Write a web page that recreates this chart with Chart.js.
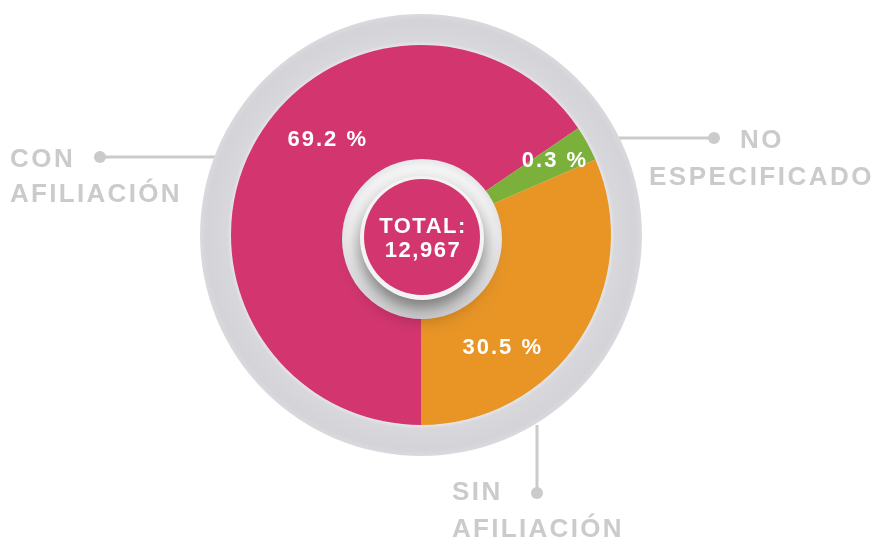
<!DOCTYPE html>
<html>
<head>
<meta charset="utf-8">
<script src="https://cdn.jsdelivr.net/npm/chart.js@4.4.0/dist/chart.umd.min.js"></script>
<style>
  body { margin: 0; background: #fff; }
  #wrap { width: 875px; height: 538px; }
</style>
</head>
<body>
<div id="wrap"><canvas id="myChart"></canvas></div>
<script>
var categories = ["CON AFILIACIÓN", "NO ESPECIFICADO", "SIN AFILIACIÓN"];
var percentages = [69.2, 0.3, 30.5];
// slice sizes as drawn in the infographic (the tiny slice is enlarged there)
var sliceShares = [65.5, 3.0, 31.5];
var totalLabel = "12,967";
var colors = ["#d3366f", "#7bb03a", "#e89526"];

// where each percent label sits: [angle from top in degrees, fraction of radius]
var labelSpots = [[-44.7, 0.705], [61, 0.80], [144.4, 0.73]];

var greyText = "#cbcbcb";

function spacedText(ctx, txt, x, y, spacing) {
  ctx.letterSpacing = spacing + "px";
  ctx.fillText(txt, x, y);
}

function dot(ctx, x, y) {
  ctx.beginPath();
  ctx.arc(x, y, 6, 0, 2 * Math.PI);
  ctx.fill();
}

var decor = {
  id: "decor",
  beforeDatasetsDraw: function (chart) {
    var arc = chart.getDatasetMeta(0).data[0];
    var cx = arc.x, cy = arc.y, r = arc.outerRadius;
    var R = r * 1.163;
    var ctx = chart.ctx;
    ctx.save();

    // leader lines (behind the ring)
    ctx.strokeStyle = greyText;
    ctx.fillStyle = greyText;
    ctx.lineWidth = 3;
    ctx.beginPath();
    ctx.moveTo(100, cy - 78); ctx.lineTo(cx - R + 20, cy - 78);
    ctx.moveTo(cx + R - 25, cy - 97); ctx.lineTo(714, cy - 97);
    ctx.moveTo(cx + 116, cy + r); ctx.lineTo(cx + 116, cy + 258);
    ctx.stroke();
    dot(ctx, 100, cy - 78);
    dot(ctx, 714, cy - 97);
    dot(ctx, cx + 116, cy + 258);

    // grey outer ring
    var g = ctx.createRadialGradient(cx, cy, r - 2, cx, cy, R);
    g.addColorStop(0, "#ececef");
    g.addColorStop(0.18, "#d8d8dc");
    g.addColorStop(0.8, "#d3d3d8");
    g.addColorStop(1, "#dadade");
    ctx.fillStyle = g;
    ctx.beginPath();
    ctx.arc(cx, cy, R, 0, 2 * Math.PI);
    ctx.fill();

    // category labels
    ctx.fillStyle = greyText;
    ctx.font = "bold 26px 'Liberation Sans', Arial, sans-serif";
    ctx.textBaseline = "alphabetic";
    ctx.textAlign = "left";
    spacedText(ctx, "CON", 10, 167, 2.5);
    spacedText(ctx, "AFILIACIÓN", 10, 202, 2.3);
    spacedText(ctx, "NO", 740, 148, 2.5);
    spacedText(ctx, "ESPECIFICADO", 649, 185, 2.5);
    spacedText(ctx, "SIN", 452, 500, 2.5);
    spacedText(ctx, "AFILIACIÓN", 452, 537, 2.3);
    ctx.restore();
  },
  afterDatasetsDraw: function (chart) {
    var meta = chart.getDatasetMeta(0);
    var arc = meta.data[0];
    var cx = arc.x, cy = arc.y, r = arc.outerRadius;
    var ctx = chart.ctx;
    ctx.save();

    // percent labels
    ctx.fillStyle = "#ffffff";
    ctx.font = "bold 22px 'Liberation Sans', Arial, sans-serif";
    ctx.textAlign = "center";
    ctx.textBaseline = "middle";
    percentages.forEach(function (p, i) {
      var a = labelSpots[i][0] * Math.PI / 180;
      var d = labelSpots[i][1] * r;
      ctx.letterSpacing = "2px";
      ctx.fillText(p.toFixed(1) + " %", cx + Math.sin(a) * d + 1, cy - Math.cos(a) * d);
    });

    // centre disc
    var ox = cx + 1, oy = cy + 4;
    var g = ctx.createRadialGradient(ox, oy, 40, ox, oy, 80);
    g.addColorStop(0, "#ffffff");
    g.addColorStop(0.8, "#f7f7f8");
    g.addColorStop(1, "#e6e6ea");
    ctx.fillStyle = g;
    ctx.beginPath();
    ctx.arc(ox, oy, 80, 0, 2 * Math.PI);
    ctx.fill();

    ctx.save();
    ctx.shadowColor = "rgba(0,0,0,0.55)";
    ctx.shadowBlur = 22;
    ctx.shadowOffsetY = 12;
    ctx.fillStyle = "#f3f3f3";
    ctx.beginPath();
    ctx.arc(cx + 1, cy + 3, 62, 0, 2 * Math.PI);
    ctx.fill();
    ctx.restore();

    ctx.fillStyle = colors[0];
    ctx.beginPath();
    ctx.arc(cx + 1, cy + 2, 58, 0, 2 * Math.PI);
    ctx.fill();

    ctx.fillStyle = "#ffffff";
    ctx.font = "bold 22px 'Liberation Sans', Arial, sans-serif";
    ctx.letterSpacing = "1.5px";
    ctx.fillText("TOTAL:", cx + 2, cy - 8);
    ctx.letterSpacing = "1.5px";
    ctx.fillText(totalLabel, cx + 2, cy + 16);
    ctx.restore();
  }
};

var ctx = document.getElementById("myChart");
var myChart = new Chart(ctx, {
  type: "pie",
  data: {
    labels: categories,
    datasets: [
      {
        data: sliceShares,
        backgroundColor: colors,
        borderWidth: 0
      }
    ]
  },
  options: {
    responsive: true,
    maintainAspectRatio: false,
    animation: false,
    rotation: 180,
    layout: { padding: { left: 100, right: 133, top: 45, bottom: 113 } },
    plugins: {
      legend: { display: false },
      tooltip: { enabled: false }
    }
  },
  plugins: [decor]
});
</script>
</body>
</html>
